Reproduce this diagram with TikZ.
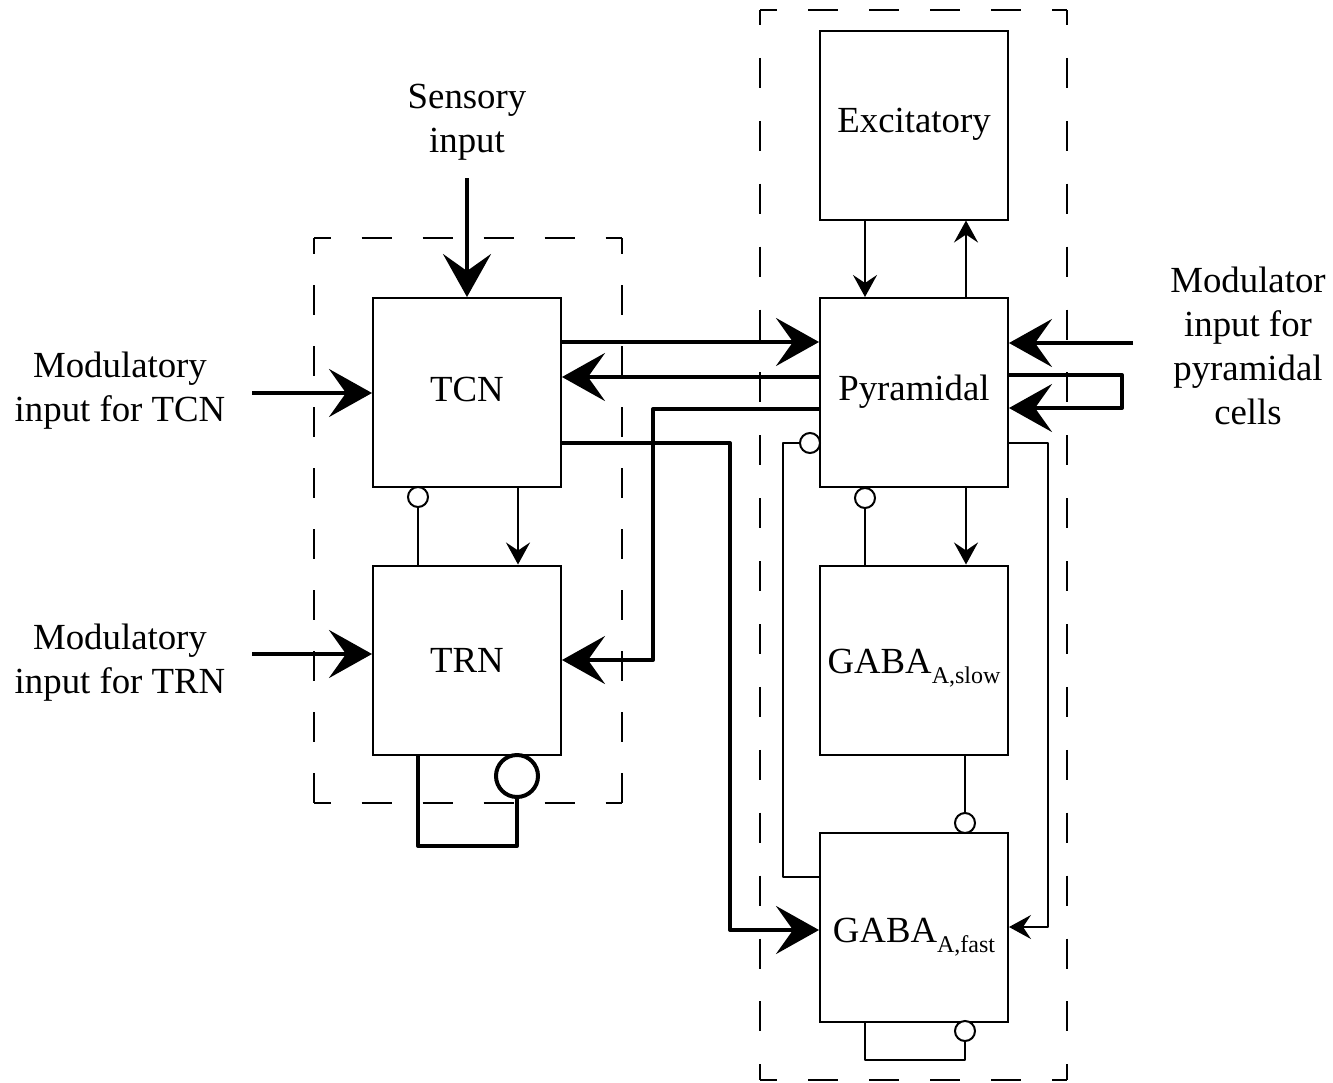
\documentclass[tikz,border=0pt]{standalone}
\usepackage{fontspec}
\setmainfont{Liberation Serif}
\usetikzlibrary{arrows.meta,calc}
\newcommand\bigtxt{\fontsize{36.8}{44}\selectfont}
\newcommand\subtxt[1]{\raisebox{-10pt}{\fontsize{24}{24}\selectfont #1}}
\begin{document}
\begin{tikzpicture}[x=1pt,y=-1pt,
  box/.style={draw,line width=2pt,minimum width=188pt,minimum height=189pt,inner sep=0pt,font=\bigtxt},
  lbl/.style={align=center,font=\bigtxt,inner sep=0pt},
  thn/.style={line width=2pt,line join=round},
  thk/.style={line width=4pt,line join=round},
  narr/.style={thn,-{Stealth[length=22pt,width=24pt,inset=8pt]}},
  tarr/.style={thk,-{Stealth[length=43pt,width=48pt,inset=17pt]}},
  inh/.style={circle,draw,fill=white,line width=2pt,minimum size=20pt,inner sep=0pt},
  binh/.style={circle,draw,fill=white,line width=4pt,minimum size=42pt,inner sep=0pt},
  dsh/.style={line width=2pt,dash pattern=on 30pt off 31pt}]
\useasboundingbox (0,0) rectangle (1333,1082);

% dashed groups
\draw[dsh,dash phase=13.5pt] (314,238) -- (622,238);
\draw[dsh,dash phase=13.5pt] (314,803) -- (622,803);
\draw[dsh,dash phase=14pt] (314,238) -- (314,803);
\draw[dsh,dash phase=14pt] (622,238) -- (622,803);
\draw[dsh,dash phase=13pt] (760,10) -- (1067,10);
\draw[dsh,dash phase=13pt] (760,1080) -- (1067,1080);
\draw[line width=2pt,dash pattern=on 30pt off 32.9pt,dash phase=15pt] (760,10) -- (760,1080);
\draw[line width=2pt,dash pattern=on 30pt off 32.9pt,dash phase=15pt] (1067,10) -- (1067,1080);

% boxes
\node[box] (tcn) at (467,392.5) {};
\node[box] (trn) at (467,660) {};
\node[box] (exc) at (914,125) {};
\node[box] (pyr) at (914,392.5) {};
\node[box] (gs) at (914,660) {};
\node[box] (gf) at (914,927) {};
\node[lbl] (tcnt) at (467,389) {TCN};
\node[lbl] (trnt) at (467,660) {TRN};
\node[lbl] (exct) at (914,124) {Excitatory};
\node[lbl] (pyrt) at (914,392) {Pyramidal};
\node[lbl] (gst) at (914,668) {GABA\subtxt{A,slow}};
\node[lbl] (gft) at (914,937) {GABA\subtxt{A,fast}};

% labels
\node[lbl] (sens) at (467,122) {Sensory\\input};
\node[lbl] (mtcn) at (120,391) {Modulatory\\input for TCN};
\node[lbl] (mtrn) at (120,663) {Modulatory\\input for TRN};
\node[lbl] (mpyr) at (1248,346) {Modulator\\input for\\pyramidal\\cells};

\coordinate (s0) at (467,178);
\coordinate (m1) at (252,393);
\coordinate (m2) at (252,654);
\coordinate (m3) at (1133,343);

% thick connections
\draw[tarr] (s0) -- (tcn.north);
\draw[tarr] (m1) -- (m1 -| tcn.west);
\draw[tarr] (m2) -- (m2 -| trn.west);
\draw[tarr] (m3) -- (m3 -| pyr.east);
\draw[tarr] (tcn.east |- 0,342) -- (pyr.west |- 0,342);
\draw[tarr] (pyr.west |- 0,377) -- (tcn.east |- 0,377);
\draw[tarr] (pyr.west |- 0,409) -| (653,660) -- (trn.east |- 0,660);
\draw[tarr] (tcn.east |- 0,443) -| (730,930) -- (gf.west |- 0,930);
\draw[tarr] (pyr.east |- 0,375) -| (1122,408) -- (pyr.east |- 0,408);

% thin connections
\draw[narr] (exc.south -| 865,0) -- (pyr.north -| 865,0);
\draw[narr] (pyr.north -| 966,0) -- (exc.south -| 966,0);
\draw[narr] (pyr.south -| 966,0) -- (gs.north -| 966,0);
\draw[narr] (tcn.south -| 518,0) -- (trn.north -| 518,0);
\draw[narr] (pyr.east |- 0,443) -| (1048,927) -- (gf.east |- 0,927);

% inhibitory connections
\node[inh] (c1) at (418,497) {};
\node[inh] (c2) at (865,498) {};
\node[inh] (c3) at (810,443) {};
\node[inh] (c4) at (965,823) {};
\node[inh] (c5) at (965,1031) {};
\node[binh] (c0) at (517,776) {};
\draw[thn] (c1.south) -- (c1.south |- trn.north);
\draw[thn] (c2.south) -- (c2.south |- gs.north);
\draw[thn] (c3.west) -| (783,877) -- (gf.west |- 0,877);
\draw[thn] (gs.south -| 965,0) -- (c4.north);
\draw[thn] (gf.south -| 865,0) |- (c5.south |- 0,1060) -- (c5.south);
\draw[thk] (trn.south -| 418,0) |- (c0.south |- 0,846) -- (c0.south);
\end{tikzpicture}
\end{document}
